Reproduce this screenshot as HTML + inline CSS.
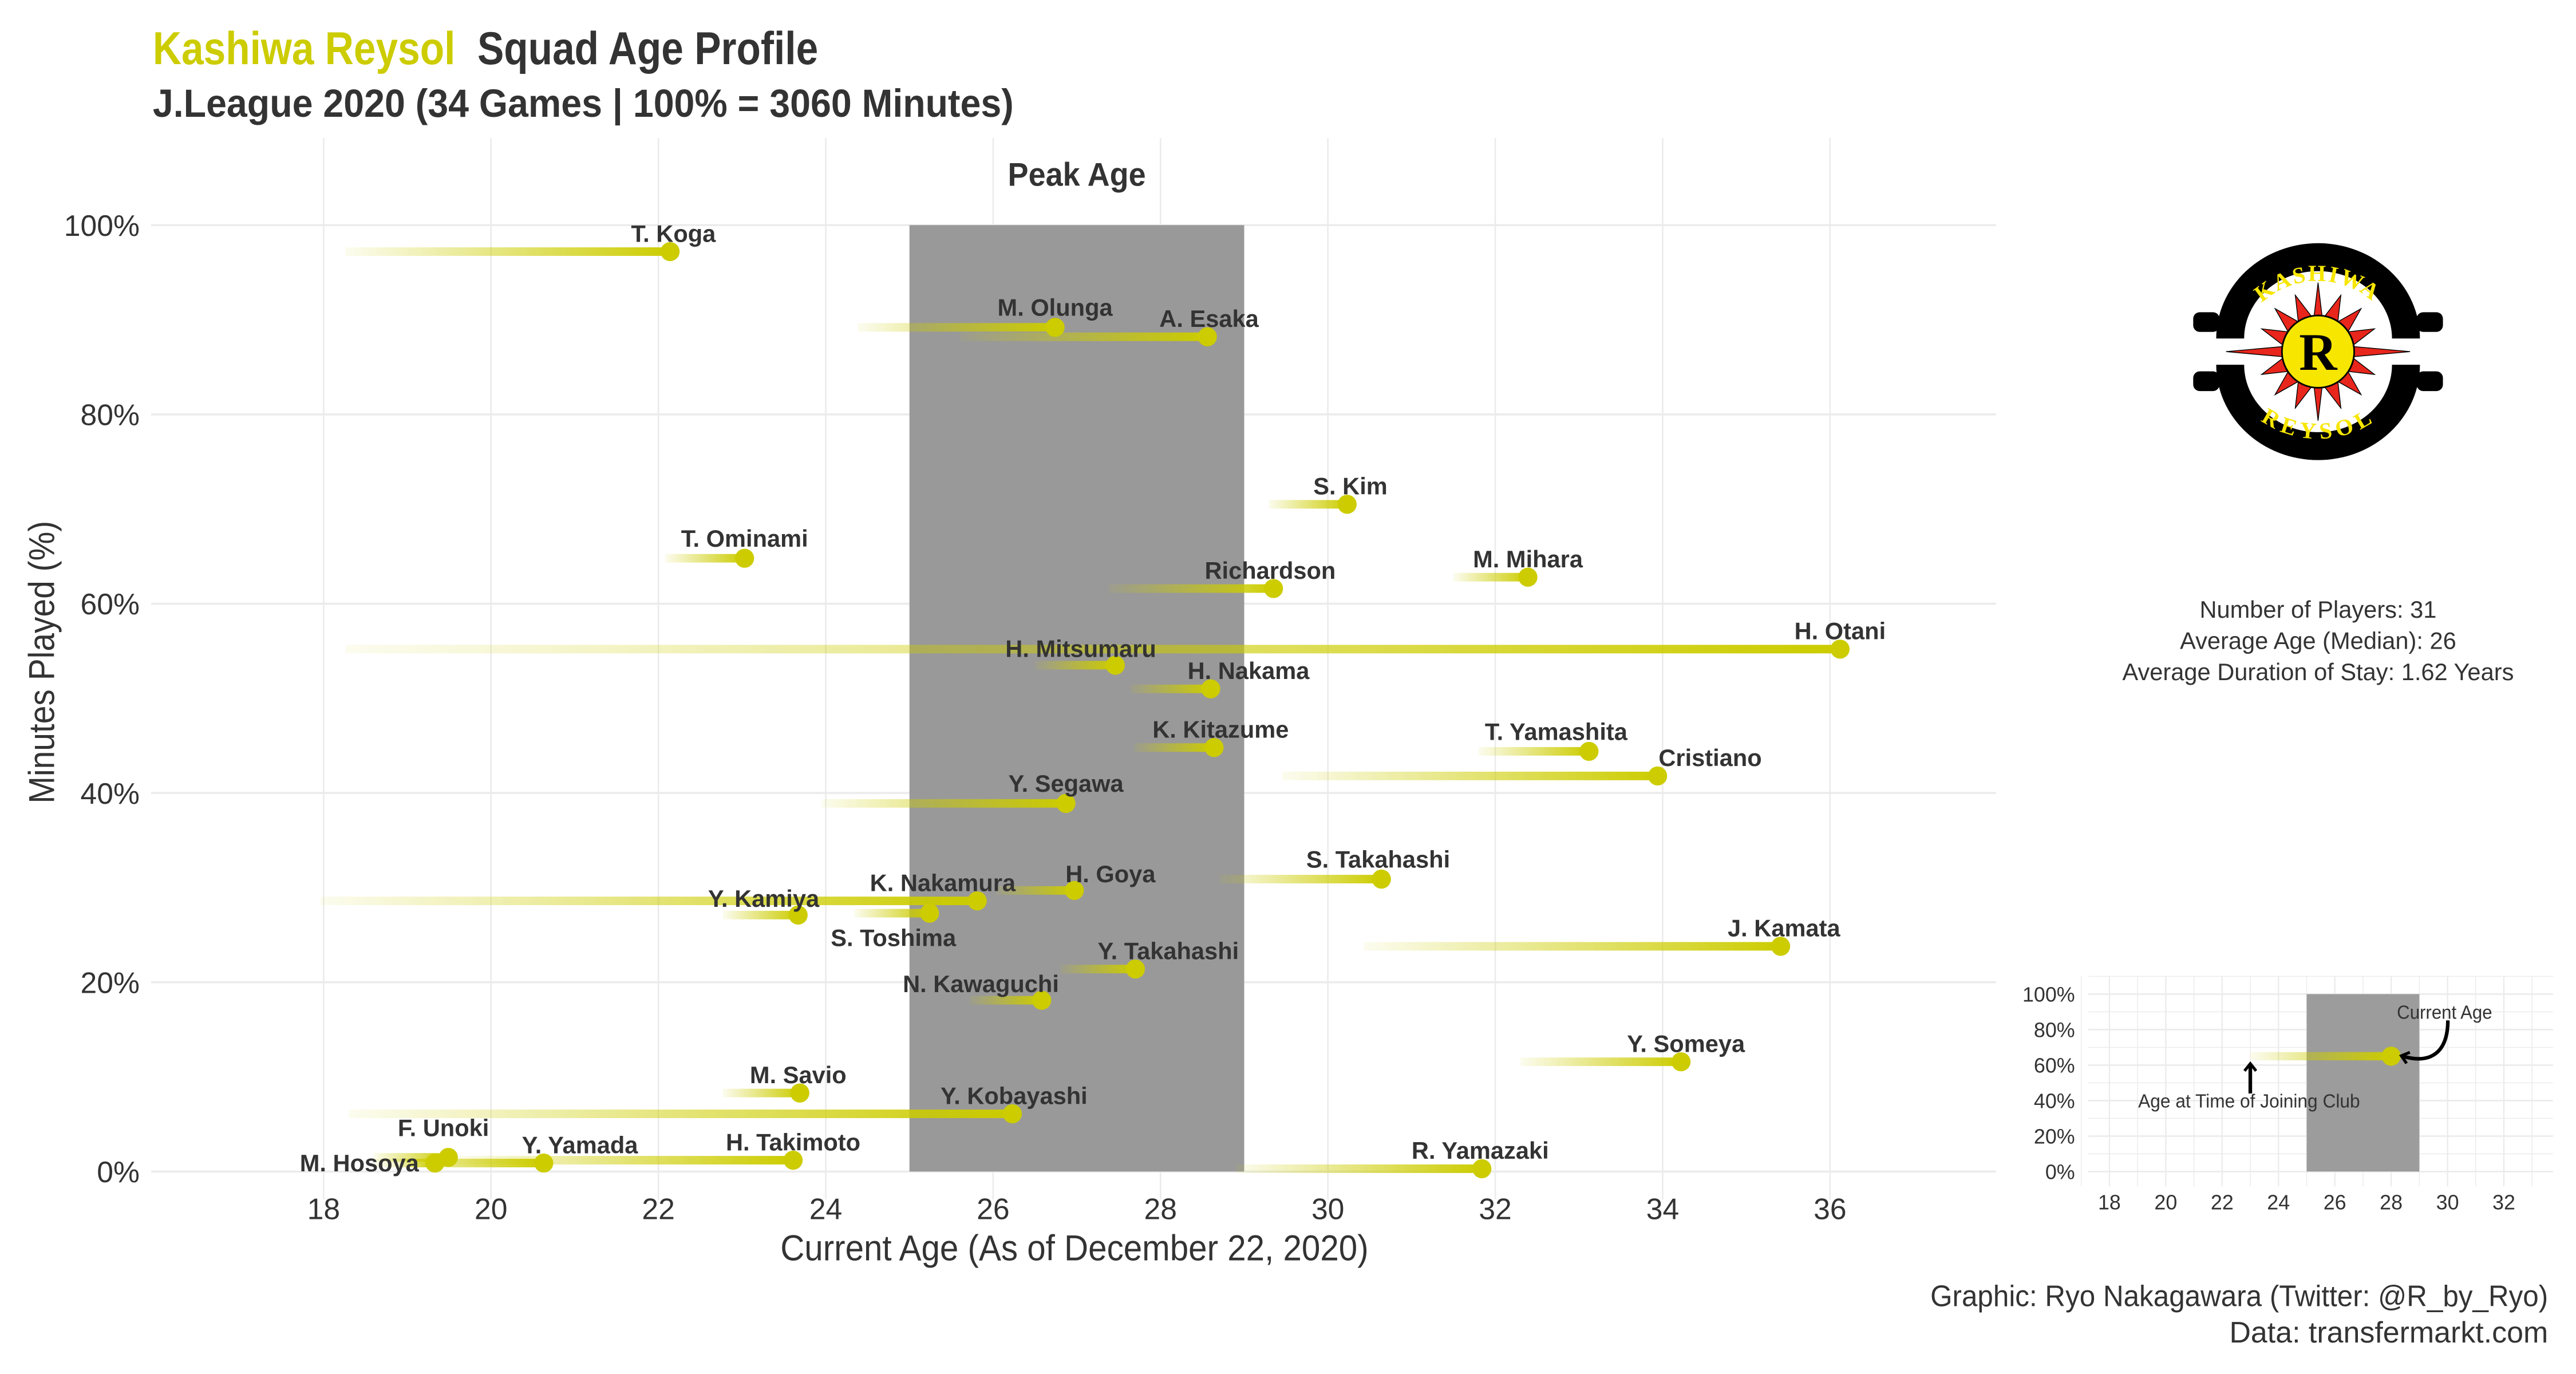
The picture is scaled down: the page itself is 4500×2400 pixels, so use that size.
<!DOCTYPE html>
<html><head><meta charset="utf-8">
<style>
html,body{margin:0;padding:0;background:#fff;}
svg{display:block;}
text{font-family:"Liberation Sans Narrow","Liberation Sans",sans-serif;fill:#333;}
.lab{font-family:"Liberation Sans",sans-serif;font-weight:bold;font-size:14.5px;fill:#333;}
</style></head>
<body>
<svg id="chart" width="4500" height="2400" viewBox="0 0 1568 836.2" preserveAspectRatio="none" xmlns="http://www.w3.org/2000/svg">
<defs>
<linearGradient id="fade" x1="0" y1="0" x2="1" y2="0">
<stop offset="0" stop-color="#cccc00" stop-opacity="0.06"/>
<stop offset="1" stop-color="#cccc00" stop-opacity="1"/>
</linearGradient>
<marker id="ah" viewBox="0 0 10 10" refX="5" refY="5" markerWidth="4" markerHeight="4" orient="auto-start-reverse">
<path d="M1,1 L6,5 L1,9" fill="none" stroke="#000" stroke-width="2"/>
</marker>
<path id="topArc" d="M-52,0 A52,48 0 0 1 52,0"/>
<path id="botArc" d="M-52,0 A52,48 0 0 0 52,0"/>
</defs>
<g>
<text x="93" y="39" font-size="28" font-weight="bold" textLength="405" lengthAdjust="spacingAndGlyphs"><tspan fill="#cccc00" style="fill:#cccc00">Kashiwa Reysol</tspan>&#160; Squad Age Profile</text>
<text x="93" y="71" font-size="24" font-weight="bold" textLength="524" lengthAdjust="spacingAndGlyphs">J.League 2020 (34 Games | 100% = 3060 Minutes)</text>
</g>
<g id="grid"></g>
<rect id="peak" fill="#999"/>
<text id="peakLab" font-size="20" font-weight="bold" text-anchor="middle" textLength="84" lengthAdjust="spacingAndGlyphs">Peak Age</text>
<g id="marks"></g>
<g id="axes"></g>
<text x="654" y="767" font-size="22" text-anchor="middle" textLength="358" lengthAdjust="spacingAndGlyphs">Current Age (As of December 22, 2020)</text>
<text transform="translate(33,403) rotate(-90)" font-size="22" text-anchor="middle" textLength="172" lengthAdjust="spacingAndGlyphs">Minutes Played (%)</text>

<g transform="translate(1411,214)">
<path d="M-62,-8 A62,58 0 0 1 62,-8 L45,-8 A45,41 0 0 0 -45,-8 Z" fill="#000"/>
<path d="M-62,8 A62,58 0 0 0 62,8 L45,8 A45,41 0 0 1 -45,8 Z" fill="#000"/>
<rect x="-76" y="-24" width="16" height="12" rx="4" fill="#000"/><rect x="60" y="-24" width="16" height="12" rx="4" fill="#000"/>
<rect x="-76" y="12" width="16" height="12" rx="4" fill="#000"/><rect x="60" y="12" width="16" height="12" rx="4" fill="#000"/>
<path d="M-56,0 L0,-5 L56,0 L0,5 Z M0,-42 L5,0 L0,42 L-5,0 Z" fill="#e8261c" stroke="#000" stroke-width="0.5"/>
<g fill="#e8261c" stroke="#000" stroke-width="0.5">
<path d="M0,-37 L5,-19 L-5,-19 Z" transform="rotate(22)"/><path d="M0,-37 L5,-19 L-5,-19 Z" transform="rotate(45)"/><path d="M0,-37 L5,-19 L-5,-19 Z" transform="rotate(68)"/>
<path d="M0,-37 L5,-19 L-5,-19 Z" transform="rotate(112)"/><path d="M0,-37 L5,-19 L-5,-19 Z" transform="rotate(135)"/><path d="M0,-37 L5,-19 L-5,-19 Z" transform="rotate(158)"/>
<path d="M0,-37 L5,-19 L-5,-19 Z" transform="rotate(202)"/><path d="M0,-37 L5,-19 L-5,-19 Z" transform="rotate(225)"/><path d="M0,-37 L5,-19 L-5,-19 Z" transform="rotate(248)"/>
<path d="M0,-37 L5,-19 L-5,-19 Z" transform="rotate(292)"/><path d="M0,-37 L5,-19 L-5,-19 Z" transform="rotate(315)"/><path d="M0,-37 L5,-19 L-5,-19 Z" transform="rotate(338)"/>
</g>
<circle r="22" fill="#f7e600" stroke="#000" stroke-width="1"/>
<text y="11" text-anchor="middle" font-size="32" font-weight="bold" style="font-family:'Liberation Serif',serif;fill:#000">R</text>
<text font-size="14" font-weight="bold" text-anchor="middle" dy="5" letter-spacing="2" style="font-family:'Liberation Serif',serif;fill:#f7e600"><textPath href="#topArc" startOffset="50%">KASHIWA</textPath></text>
<text font-size="14" font-weight="bold" text-anchor="middle" dy="5" letter-spacing="2" style="font-family:'Liberation Serif',serif;fill:#f7e600"><textPath href="#botArc" startOffset="50%">REYSOL</textPath></text>
</g>

<g font-size="14.5" text-anchor="middle">
<text x="1411" y="376">Number of Players: 31</text>
<text x="1411" y="395">Average Age (Median): 26</text>
<text x="1411" y="414">Average Duration of Stay: 1.62 Years</text>
</g>

<g id="inset"></g>

<g font-size="18" text-anchor="end">
<text x="1551" y="795" textLength="376" lengthAdjust="spacingAndGlyphs">Graphic: Ryo Nakagawara (Twitter: @R_by_Ryo)</text>
<text x="1551" y="817" textLength="194" lengthAdjust="spacingAndGlyphs">Data: transfermarkt.com</text>
</g>
</svg>
<script>
const players = ["T. Koga","M. Olunga","A. Esaka","S. Kim","T. Ominami","Richardson","M. Mihara","H. Otani","H. Mitsumaru","H. Nakama","K. Kitazume","T. Yamashita","Cristiano","Y. Segawa","S. Takahashi","H. Goya","K. Nakamura","Y. Kamiya","S. Toshima","J. Kamata","Y. Takahashi","N. Kawaguchi","Y. Someya","M. Savio","Y. Kobayashi","F. Unoki","Y. Yamada","H. Takimoto","M. Hosoya","R. Yamazaki"];
const currentAge = [22.14,26.74,28.56,30.23,23.03,29.35,32.39,36.12,27.46,28.6,28.64,33.12,33.94,26.87,30.64,26.97,25.81,23.67,25.24,35.41,27.7,26.58,34.22,23.69,26.23,19.49,20.63,23.61,19.33,31.84];
const joinAge = [18.26,24.38,25.6,29.29,22.08,27.38,31.5,18.26,26.5,27.64,27.68,31.8,29.45,23.95,28.7,26.03,17.96,22.77,24.34,30.43,26.8,25.72,32.3,22.77,18.3,18.6,18.6,19.5,18.9,28.9];
const minutesPct = [97.2,89.2,88.2,70.5,64.8,61.6,62.8,55.2,53.5,51.0,44.8,44.4,41.8,38.9,30.9,29.7,28.6,27.1,27.3,23.8,21.4,18.1,11.6,8.3,6.1,1.5,0.9,1.2,0.9,0.3];
const labelDx = [2,0,1,2,0,-2,0,0,-21,23,4,-20,32,0,-2,22,-21,-21,-22,2,20,-37,3,-1,1,-3,22,0,-46,-1];
const labelDy = [-11,-12,-11,-11,-12,-11,-11,-11,-10,-11,-11,-12,-11,-12,-12,-10,-11,-10,15,-11,-11,-10,-11,-11,-11,-18,-11,-11,0,-11];
const xTicks = [18,20,22,24,26,28,30,32,34,36];
const yTicks = [0,20,40,60,80,100];
const peakRange = [25,29];
const insetCurrent = 28, insetJoin = 23, insetPct = 65;
const insetXTicks = [18,20,22,24,26,28,30,32];

const NS = "http://www.w3.org/2000/svg";
const X = a => 197 + (a - 18) * 50.94;
const Y = p => 713 - p * 5.76;
function mk(tag, attrs, parent){const e=document.createElementNS(NS,tag);for(const k in attrs)e.setAttribute(k,attrs[k]);parent.appendChild(e);return e;}

const grid = document.getElementById('grid');
yTicks.forEach(t=>{const l=mk('line',{x1:92,x2:1215,y1:Y(t),y2:Y(t),stroke:'#ebebeb','stroke-width':1.2},grid);

});
xTicks.forEach(t=>{const l=mk('line',{x1:X(t),x2:X(t),y1:84,y2:730,stroke:'#ebebeb','stroke-width':0.9},grid);

});

const pk=document.getElementById('peak');
pk.setAttribute('x',X(peakRange[0]));pk.setAttribute('width',X(peakRange[1])-X(peakRange[0]));
pk.setAttribute('y',Y(100));pk.setAttribute('height',Y(0)-Y(100));
const pl=document.getElementById('peakLab');pl.setAttribute('x',(X(peakRange[0])+X(peakRange[1]))/2);pl.setAttribute('y',113);

const axes=document.getElementById('axes');
yTicks.forEach(t=>{const e=mk('text',{x:85,y:Y(t)+6.5,'font-size':18,'text-anchor':'end'},axes);e.textContent=t+'%';

});
xTicks.forEach(t=>{const e=mk('text',{x:X(t),y:742,'font-size':18,'text-anchor':'middle'},axes);e.textContent=t;

});

const marks=document.getElementById('marks');
players.forEach((n,i)=>{
  const g=mk('g',{},marks);
  
  
  const x0=X(joinAge[i]),x1=X(currentAge[i]),y=Y(minutesPct[i]);
  const r=mk('rect',{x:x0,y:y-2.6,width:Math.max(1,x1-x0),height:5.2,fill:'url(#fade)'},g);
  
  
  const c=mk('circle',{cx:x1,cy:y,r:5.8,fill:'#cccc00'},g);
  
  
});
players.forEach((n,i)=>{
  const t=mk('text',{x:X(currentAge[i])+labelDx[i],y:Y(minutesPct[i])+labelDy[i]+5,'text-anchor':'middle','class':'lab'},marks);
  t.textContent=n;
  
  
});

// inset
const inset=document.getElementById('inset');
const IX=a=>1284+(a-18)*17.15, IY=p=>713-p*1.08;
for(let a=17;a<=33;a++){const l=mk('line',{x1:IX(a),x2:IX(a),y1:594,y2:722,stroke:'#ebebeb','stroke-width':a%2?0.5:0.8},inset);

}
for(let p=0;p<=110;p+=10){const l=mk('line',{x1:1271,x2:1554,y1:IY(p),y2:IY(p),stroke:'#ebebeb','stroke-width':p%20?0.5:0.9},inset);

}
const ip=mk('rect',{x:IX(peakRange[0]),y:IY(100),width:IX(peakRange[1])-IX(peakRange[0]),height:IY(0)-IY(100),fill:'#999','fill-opacity':0.97},inset);


[0,20,40,60,80,100].forEach(t=>{const e=mk('text',{x:1263,y:IY(t)+4.5,'font-size':12.5,'text-anchor':'end'},inset);e.textContent=t+'%';

});
insetXTicks.forEach(t=>{const e=mk('text',{x:IX(t),y:736,'font-size':12.5,'text-anchor':'middle'},inset);e.textContent=t;

});
const ib=mk('rect',{x:IX(insetJoin),y:IY(insetPct)-2.5,width:IX(insetCurrent)-IX(insetJoin),height:5,fill:'url(#fade)'},inset);


const ic=mk('circle',{cx:IX(insetCurrent),cy:IY(insetPct),r:5.8,fill:'#cccc00'},inset);


const a1=mk('path',{d:`M${IX(insetJoin)},${IY(44)} L${IX(insetJoin)},${IY(60)}`,stroke:'#000','stroke-width':2.2,fill:'none','marker-end':'url(#ah)'},inset);


const a2=mk('path',{d:`M1490,621 C1490,640 1480,648 ${IX(insetCurrent)+7},${IY(insetPct)}`,stroke:'#000','stroke-width':2.2,fill:'none','marker-end':'url(#ah)'},inset);


const t1=mk('text',{x:1369,y:674,'font-size':11.5,'text-anchor':'middle',textLength:135,lengthAdjust:'spacingAndGlyphs'},inset);t1.textContent='Age at Time of Joining Club';


const t2=mk('text',{x:1488,y:620,'font-size':11.5,'text-anchor':'middle',textLength:58,lengthAdjust:'spacingAndGlyphs'},inset);t2.textContent='Current Age';


</script>
</body></html>
